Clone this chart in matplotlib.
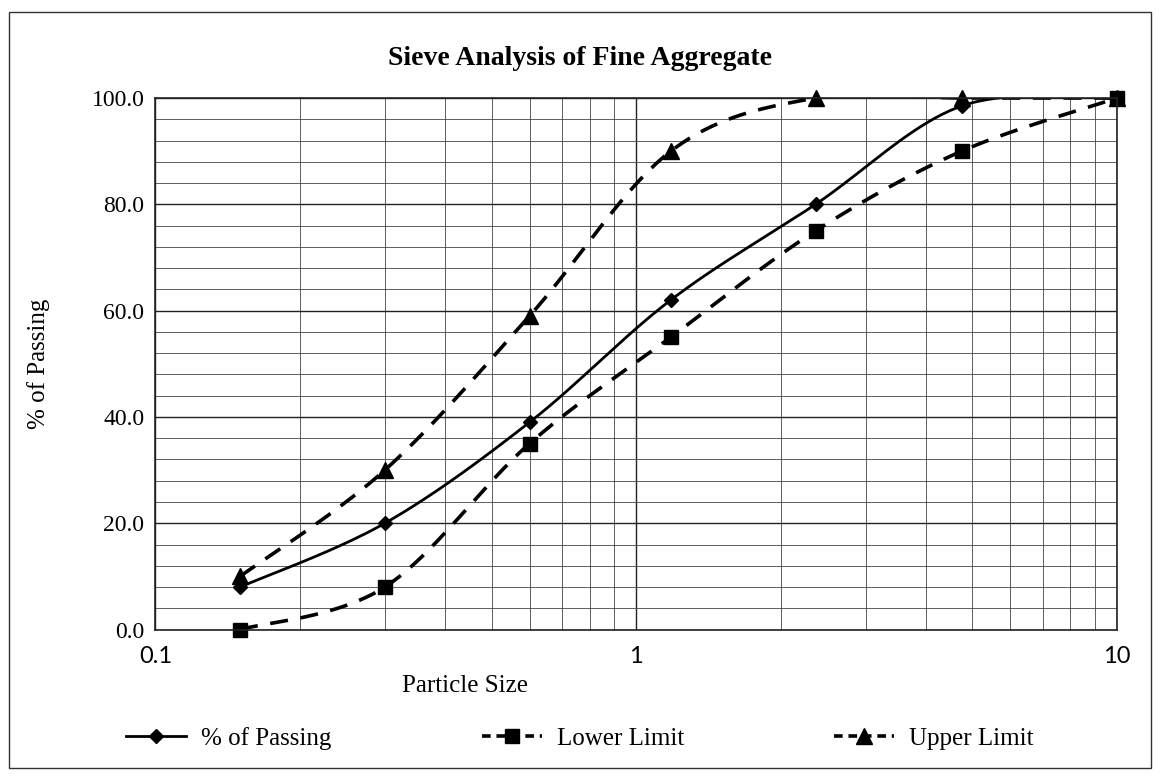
import numpy as np
import matplotlib
matplotlib.use('Agg')
import matplotlib.pyplot as plt
from matplotlib.lines import Line2D
from matplotlib.ticker import FixedLocator, LogLocator, NullFormatter

# ---- Datos ----
sieve = [0.15, 0.3, 0.6, 1.18, 2.36, 4.75, 10]
passing = [8.0, 20.0, 39.0, 62.0, 80.0, 98.5, 100.0]
lower = [0.0, 8.0, 35.0, 55.0, 75.0, 90.0, 100.0]
upper = [10.0, 30.0, 59.0, 90.0, 100.0, 100.0, 100.0]

y_ticks = [0, 20, 40, 60, 80, 100]
x_ticks = [0.1, 1, 10]
x_tick_labels = ['0.1', '1', '10']

serif = ['Liberation Serif', 'DejaVu Serif']


def smooth(x, y, n=40):
    # curva suavizada tipo Excel (Catmull-Rom) en espacio log-x
    u = np.log10(np.asarray(x, float)) * 480.0
    v = np.asarray(y, float) * 5.3
    P = np.column_stack([u, v])
    out = [P[0]]
    for i in range(len(P) - 1):
        p0 = P[max(i - 1, 0)]
        p1, p2 = P[i], P[i + 1]
        p3 = P[min(i + 2, len(P) - 1)]
        c1 = p1 + (p2 - p0) / 6.0
        c2 = p2 - (p3 - p1) / 6.0
        t = np.linspace(0, 1, n)[1:, None]
        seg = ((1 - t) ** 3) * p1 + 3 * ((1 - t) ** 2) * t * c1 \
            + 3 * (1 - t) * t ** 2 * c2 + t ** 3 * p2
        out.extend(seg)
    out = np.array(out)
    return 10 ** (out[:, 0] / 480.0), out[:, 1] / 5.3


fig = plt.figure(figsize=(11.6, 7.84), dpi=100)
ax = fig.add_axes([0.134, 0.197, 0.829, 0.678])

# marco exterior del grafico
fig.add_artist(plt.Rectangle((0.008, 0.02), 0.984, 0.965, transform=fig.transFigure,
                             fill=False, edgecolor='#333333', linewidth=1.0))

ax.set_xscale('log')
ax.set_xlim(0.1, 10)
ax.set_ylim(0, 100)

ax.xaxis.set_major_locator(FixedLocator(x_ticks))
ax.xaxis.set_minor_locator(LogLocator(base=10, subs=np.arange(2, 10)))
ax.xaxis.set_minor_formatter(NullFormatter())
ax.set_xticklabels(x_tick_labels, fontfamily='Lato', fontsize=17)
ax.set_yticks(y_ticks)
ax.set_yticks(np.arange(0, 101, 4), minor=True)
ax.set_yticklabels(['%.1f' % v for v in y_ticks], fontfamily=serif, fontsize=17)
ax.tick_params(which='both', length=0)
ax.tick_params(axis='x', pad=12)
ax.tick_params(axis='y', pad=8)

ax.grid(which='major', color='#222222', linewidth=1.0)
ax.grid(which='minor', color='#444444', linewidth=0.6)
ax.set_axisbelow(True)
for s in ax.spines.values():
    s.set_color('#222222')
    s.set_linewidth(1.2)

xs, ys = smooth(sieve, passing)
ax.plot(xs, ys, color='black', linewidth=2.0)
ax.plot(sieve, passing, 'D', color='black', markersize=7, clip_on=False)

xs, ys = smooth(sieve, lower)
ax.plot(xs, ys, color='black', linewidth=2.6, dashes=(5, 3.5))
ax.plot(sieve, lower, 's', color='black', markersize=10, clip_on=False)

xs, ys = smooth(sieve, upper)
ax.plot(xs, ys, color='black', linewidth=2.6, dashes=(5, 3.5))
ax.plot(sieve, upper, '^', color='black', markersize=11, clip_on=False)

fig.text(0.5, 0.925, 'Sieve Analysis of Fine Aggregate', fontfamily=serif,
         fontsize=20, fontweight='bold', ha='center', va='center')
ax.set_xlabel('Particle Size', fontfamily=serif, fontsize=18)
ax.xaxis.set_label_coords(0.322, -0.085)
ax.set_ylabel('% of Passing', fontfamily=serif, fontsize=18, labelpad=30)

handles = [
    Line2D([], [], color='black', linewidth=2.0, marker='D', markersize=7),
    Line2D([], [], color='black', linewidth=2.6, dashes=(2.4, 1.6), marker='s', markersize=10),
    Line2D([], [], color='black', linewidth=2.6, dashes=(2.4, 1.6), marker='^', markersize=11),
]
fig.legend(handles, ['% of Passing', 'Lower Limit', 'Upper Limit'],
           loc='center', bbox_to_anchor=(0.5, 0.058), ncol=3, frameon=False,
           prop={'family': serif, 'size': 18}, handlelength=2.4,
           handletextpad=0.6, columnspacing=6)

fig.savefig('out.png', dpi=100, facecolor='white')
